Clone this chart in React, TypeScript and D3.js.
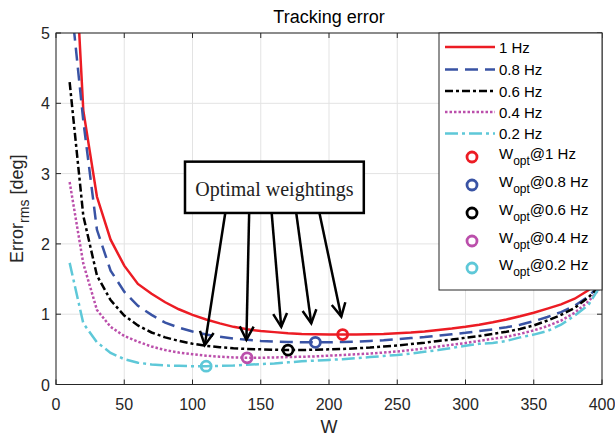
import { useMemo } from 'react';
import * as d3 from 'd3';

// W samples (every 10)
const wSamples = [10, 20, 30, 40, 50, 60, 70, 80, 90, 100, 110, 120, 130, 140, 150, 160, 170, 180, 190, 200,
  210, 220, 230, 240, 250, 260, 270, 280, 290, 300, 310, 320, 330, 340, 350, 360, 370, 380, 390, 400];

const err1Hz = [7.6, 3.9, 2.67, 2.06, 1.69, 1.43, 1.29, 1.17, 1.07, 0.99, 0.925, 0.87, 0.82, 0.785, 0.76, 0.745, 0.73, 0.72, 0.715, 0.71,
  0.71, 0.71, 0.715, 0.72, 0.73, 0.74, 0.755, 0.775, 0.795, 0.82, 0.85, 0.885, 0.925, 0.97, 1.02, 1.08, 1.14, 1.22, 1.34, 1.52];
const err08Hz = [5.64, 3.75, 2.2, 1.62, 1.32, 1.12, 0.99, 0.88, 0.81, 0.755, 0.71, 0.68, 0.655, 0.635, 0.62, 0.61, 0.605, 0.6, 0.6, 0.6,
  0.605, 0.61, 0.62, 0.63, 0.645, 0.66, 0.675, 0.695, 0.715, 0.735, 0.76, 0.785, 0.815, 0.85, 0.9, 0.96, 1.03, 1.12, 1.25, 1.45];
const err06Hz = [4.3, 2.4, 1.55, 1.2, 0.98, 0.84, 0.74, 0.67, 0.62, 0.58, 0.55, 0.53, 0.515, 0.505, 0.5, 0.495, 0.49, 0.49, 0.495, 0.5,
  0.505, 0.515, 0.525, 0.54, 0.555, 0.575, 0.595, 0.62, 0.64, 0.665, 0.69, 0.72, 0.75, 0.79, 0.84, 0.91, 0.99, 1.09, 1.24, 1.42];
const err04Hz = [2.88, 1.72, 1.06, 0.82, 0.69, 0.61, 0.54, 0.49, 0.455, 0.43, 0.41, 0.395, 0.385, 0.38, 0.38, 0.385, 0.39, 0.395, 0.4, 0.41,
  0.42, 0.43, 0.44, 0.455, 0.47, 0.49, 0.515, 0.54, 0.565, 0.59, 0.62, 0.65, 0.68, 0.72, 0.77, 0.83, 0.91, 1.02, 1.18, 1.4];
const err02Hz = [1.73, 0.87, 0.6, 0.45, 0.36, 0.31, 0.285, 0.27, 0.265, 0.26, 0.26, 0.265, 0.27, 0.28, 0.29, 0.3, 0.315, 0.33, 0.34, 0.35,
  0.36, 0.375, 0.39, 0.405, 0.42, 0.44, 0.465, 0.49, 0.52, 0.55, 0.58, 0.59, 0.62, 0.67, 0.71, 0.76, 0.85, 0.98, 1.13, 1.44];

const freqLabels = ['1 Hz', '0.8 Hz', '0.6 Hz', '0.4 Hz', '0.2 Hz'];
const optW = [210, 190, 170, 140, 110];
const optErr = [0.71, 0.6, 0.49, 0.38, 0.26];

// annotation arrows (data units): tail at box bottom, tip near optimum
const arrowTailW = [124, 141.5, 158, 176, 193];
const arrowTipW = [109, 139.5, 165, 187, 209];
const arrowTipErr = [0.56, 0.635, 0.82, 0.87, 0.965];
const boxW = [94.5, 225.5];
const boxErr = [2.44, 3.17];

const xTicks = [0, 50, 100, 150, 200, 250, 300, 350, 400];
const yTicks = [0, 1, 2, 3, 4, 5];

const styles = [
  { color: '#ec1c24', dash: null },
  { color: '#3953a4', dash: '13,7' },
  { color: '#000000', dash: '8,3,3,3' },
  { color: '#bb4fab', dash: '2.5,2' },
  { color: '#5ec8d8', dash: '13,4,3,4' },
];

const series = [err1Hz, err08Hz, err06Hz, err04Hz, err02Hz];

const App = () => {
  const width = 615;
  const height = 436;
  const left = 56, right = 602, top = 33, bottom = 384.5;

  const x = d3.scaleLinear().domain([0, 400]).range([left, right]);
  const y = d3.scaleLinear().domain([0, 5]).range([bottom, top]);

  const line = d3.line<number>()
    .x((d, i) => x(wSamples[i]))
    .y((d) => y(d));

  const font = '"Liberation Sans", Arial, sans-serif';
  const axisColor = '#262626';
  const tickLen = 5;

  const arrows = useMemo(() => arrowTailW.map((tw, i) => {
    const x0 = x(tw), y0 = y(boxErr[0]);
    const x1 = x(arrowTipW[i]), y1 = y(arrowTipErr[i]);
    const ang = Math.atan2(y1 - y0, x1 - x0);
    const len = 15, spread = 0.48;
    const lx = x1 - len * Math.cos(ang - spread), ly = y1 - len * Math.sin(ang - spread);
    const rx = x1 - len * Math.cos(ang + spread), ry = y1 - len * Math.sin(ang + spread);
    return { x0, y0, x1, y1, head: `M${lx},${ly}L${x1},${y1}L${rx},${ry}` };
  }), []);

  const legX = 439, legTop = top, legRight = right, legBottom = 290;
  const lineRows = [47, 69.5, 91, 112, 133.5];
  const markRows = [157, 185, 213, 241, 268];

  return (
    <svg width={width} height={height} style={{ position: 'absolute', left: 0, top: 0, background: '#fff' }}
      fontFamily={font}>
      <defs>
        <clipPath id="plot-clip">
          <rect x={left} y={top} width={right - left} height={bottom - top} />
        </clipPath>
      </defs>
      <rect x={0} y={0} width={width} height={height} fill="#fff" />

      {/* grid */}
      {xTicks.map((t) => (
        <line key={'gx' + t} x1={x(t)} x2={x(t)} y1={top} y2={bottom} stroke="#e3e3e3" strokeWidth={1} />
      ))}
      {yTicks.map((t) => (
        <line key={'gy' + t} x1={left} x2={right} y1={y(t)} y2={y(t)} stroke="#e3e3e3" strokeWidth={1} />
      ))}

      {/* curves */}
      <g clipPath="url(#plot-clip)">
        {series.map((s, i) => (
          <path key={'s' + i} d={line(s) || ''} fill="none" stroke={styles[i].color} strokeWidth={2.5}
            strokeDasharray={styles[i].dash || undefined} />
        ))}
        {optW.map((w, i) => (
          <circle key={'o' + i} cx={x(w)} cy={y(optErr[i])} r={5} fill="none" stroke={styles[i].color} strokeWidth={2.8} />
        ))}
      </g>

      {/* axes box and ticks */}
      <rect x={left} y={top} width={right - left} height={bottom - top} fill="none" stroke={axisColor} strokeWidth={1} />
      {xTicks.map((t) => (
        <g key={'tx' + t}>
          <line x1={x(t)} x2={x(t)} y1={bottom} y2={bottom - tickLen} stroke={axisColor} />
          <line x1={x(t)} x2={x(t)} y1={top} y2={top + tickLen} stroke={axisColor} />
          <text x={x(t)} y={410} textAnchor="middle" fontSize={16} fill={axisColor}>{t}</text>
        </g>
      ))}
      {yTicks.map((t) => (
        <g key={'ty' + t}>
          <line x1={left} x2={left + tickLen} y1={y(t)} y2={y(t)} stroke={axisColor} />
          <line x1={right} x2={right - tickLen} y1={y(t)} y2={y(t)} stroke={axisColor} />
          <text x={left - 6} y={y(t) + 6} textAnchor="end" fontSize={16} fill={axisColor}>{t}</text>
        </g>
      ))}

      {/* labels */}
      <text x={(left + right) / 2} y={23} textAnchor="middle" fontSize={18} fill="#000">Tracking error</text>
      <text x={(left + right) / 2} y={433} textAnchor="middle" fontSize={18} fill={axisColor}>W</text>
      <text transform={`translate(23,${(top + bottom) / 2}) rotate(-90)`} textAnchor="middle" fontSize={18} fill={axisColor}>
        Error<tspan dy={6} fontSize={14}>rms</tspan><tspan dy={-6}> [deg]</tspan>
      </text>

      {/* annotation */}
      {arrows.map((a, i) => (
        <g key={'a' + i} stroke="#000" strokeWidth={2.5} fill="none" strokeLinejoin="miter">
          <line x1={a.x0} y1={a.y0} x2={a.x1} y2={a.y1} />
          <path d={a.head} />
        </g>
      ))}
      <rect x={x(boxW[0])} y={y(boxErr[1])} width={x(boxW[1]) - x(boxW[0])} height={y(boxErr[0]) - y(boxErr[1])}
        fill="#fff" stroke="#000" strokeWidth={2.5} />
      <text x={(x(boxW[0]) + x(boxW[1])) / 2} y={196} textAnchor="middle" fontSize={20}
        fontFamily='"Liberation Serif", "DejaVu Serif", serif' fill="#222">Optimal weightings</text>

      {/* legend */}
      <rect x={legX} y={legTop} width={legRight - legX} height={legBottom - legTop} fill="#fff" stroke={axisColor} strokeWidth={1} />
      {freqLabels.map((lab, i) => (
        <g key={'l' + i}>
          <line x1={445} x2={495} y1={lineRows[i]} y2={lineRows[i]} stroke={styles[i].color} strokeWidth={2.5}
            strokeDasharray={styles[i].dash || undefined} />
          <text x={499} y={lineRows[i] + 5.5} fontSize={15} fill="#000">{lab}</text>
        </g>
      ))}
      {freqLabels.map((lab, i) => (
        <g key={'m' + i}>
          <circle cx={472} cy={markRows[i]} r={5} fill="none" stroke={styles[i].color} strokeWidth={2.8} />
          <text x={499} y={markRows[i] + 2} fontSize={15} fill="#000">
            W<tspan dy={6} fontSize={12}>opt</tspan><tspan dy={-6}>@{lab}</tspan>
          </text>
        </g>
      ))}
    </svg>
  );
};

export default App;
